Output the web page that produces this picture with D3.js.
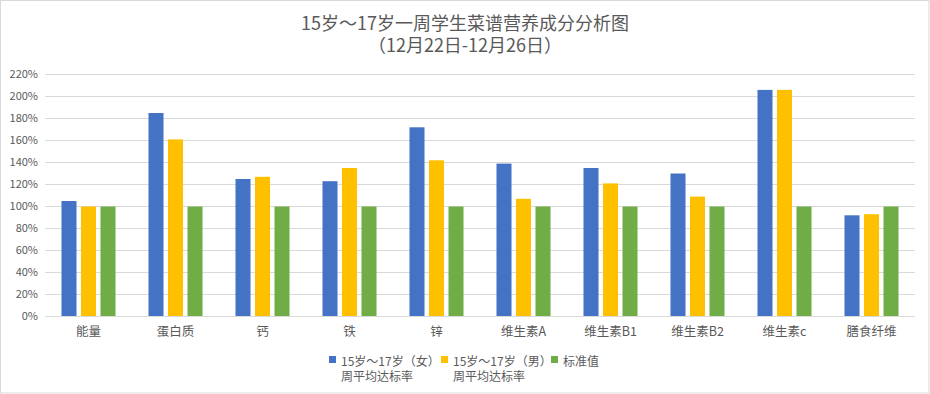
<!DOCTYPE html>
<html><head><meta charset="utf-8">
<script src="https://cdn.jsdelivr.net/npm/d3@7"></script>
<style>
html,body{margin:0;padding:0;background:#fff;}
#wrap{position:relative;width:930px;height:394px;}
svg{position:absolute;left:0;top:0;}
svg text{font-family:"Noto Sans CJK SC","Microsoft YaHei",sans-serif;fill:#595959;}
.html-text{position:absolute;font-family:"Noto Sans CJK SC","Microsoft YaHei",sans-serif;color:#595959;white-space:nowrap;}
.title{left:0;width:930px;top:11px;text-align:center;font-size:18px;line-height:22px;}
.leg-text{font-size:12px;line-height:15px;}
.leg-swatch{position:absolute;width:7px;height:7px;}
</style></head>
<body>
<div id="wrap"><svg id="chart" width="930" height="394"></svg></div>
<script>
const categories = ["能量","蛋白质","钙","铁","锌","维生素A","维生素B1","维生素B2","维生素c","膳食纤维"];
const femaleRate = [105,185,125,123,172,139,135,130,206,92];
const maleRate = [100,161,127,135,142,107,121,109,206,93];
const standardRate = [100,100,100,100,100,100,100,100,100,100];
const yTicks = [0,20,40,60,80,100,120,140,160,180,200,220];
const seriesNames = [["15岁～17岁（女）","周平均达标率"],["15岁～17岁（男）","周平均达标率"],["标准值"]];
const colors = ["#4472C4","#FFC000","#70AD47"];
const titleLines = ["15岁～17岁一周学生菜谱营养成分分析图","（12月22日-12月26日）"];

const series = [femaleRate, maleRate, standardRate];
const wrap = d3.select("#wrap");
const svg = d3.select("#chart");

// border
svg.append("rect").attr("x",0.5).attr("y",0.5).attr("width",928.5).attr("height",392.5)
  .attr("fill","#fff").attr("stroke","#d9d9d9").attr("stroke-width",1);

const plotLeft = 45, plotRight = 915, plotTop = 74.5, plotBottom = 316.5;
const x0 = d3.scaleBand().domain(categories).range([plotLeft,plotRight]).paddingInner(0.379).paddingOuter(0.1895);
const x1 = d3.scaleBand().domain([0,1,2]).range([0,x0.bandwidth()]).paddingInner(0.23).paddingOuter(0);
const y = d3.scaleLinear().domain([0,220]).range([plotBottom,plotTop]);

// gridlines
svg.append("g").selectAll("line").data(yTicks).join("line")
  .attr("x1",plotLeft).attr("x2",plotRight)
  .attr("y1",d=>Math.round(y(d)-0.5)+0.5).attr("y2",d=>Math.round(y(d)-0.5)+0.5)
  .attr("stroke","#d9d9d9").attr("stroke-width",1);

// y tick labels
svg.append("g").selectAll("text").data(yTicks).join("text")
  .attr("x",38).attr("y",d=>y(d)).attr("dy","0.35em")
  .attr("text-anchor","end").attr("font-size","11px")
  .text(d=>d+"%");

// bars
const groups = svg.append("g").selectAll("g").data(categories).join("g")
  .attr("transform",d=>`translate(${x0(d)},0)`);
groups.selectAll("rect").data((c,i)=>series.map((s,si)=>({si,v:s[i]}))).join("rect")
  .attr("x",d=>x1(d.si)).attr("width",x1.bandwidth())
  .attr("y",d=>y(d.v)).attr("height",d=>y(0)-y(d.v))
  .attr("fill",d=>colors[d.si]);

// x axis line
svg.append("line").attr("x1",plotLeft).attr("x2",plotRight).attr("y1",plotBottom).attr("y2",plotBottom)
  .attr("stroke","#d9d9d9").attr("stroke-width",1);

// x labels
svg.append("g").selectAll("text").data(categories).join("text")
  .attr("x",d=>x0(d)+x0.bandwidth()/2).attr("y",332).attr("dy","0.35em")
  .attr("text-anchor","middle").attr("font-size","12.5px")
  .text(d=>d);

// title (HTML, fixed line-height)
wrap.append("div").attr("class","html-text title")
  .selectAll("div").data(titleLines).join("div").text(d=>d);

// legend
const legX = [329,441,551];
seriesNames.forEach((lines,i)=>{
  wrap.append("div").attr("class","leg-swatch")
    .style("left",legX[i]+"px").style("top","356px").style("background",colors[i]);
  wrap.append("div").attr("class","html-text leg-text")
    .style("left",(legX[i]+12)+"px").style("top","352.5px")
    .selectAll("div").data(lines).join("div").text(d=>d);
});
</script>
</body></html>
